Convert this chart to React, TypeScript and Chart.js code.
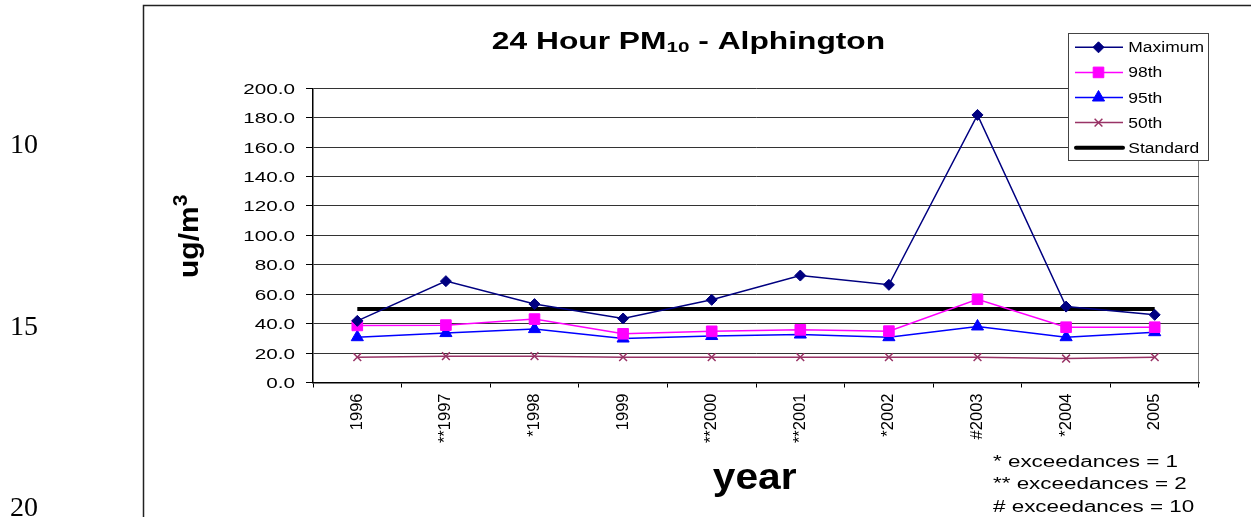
import React, { useEffect, useRef } from 'react';
import { Chart, registerables } from 'chart.js';
import { drawPoint } from 'chart.js/helpers';

Chart.register(...registerables);

// ---------- data ----------
const categories = ['1996', '**1997', '*1998', '1999', '**2000', '**2001', '*2002', '#2003', '*2004', '2005'];
const maximumValues = [41.9, 68.9, 53.3, 43.5, 56.2, 72.7, 66.4, 181.9, 51.6, 46.0];
const p98Values = [38.8, 39.0, 43.1, 33.1, 34.8, 35.8, 34.9, 56.6, 37.6, 37.6];
const p95Values = [30.8, 33.6, 36.3, 29.9, 31.6, 32.6, 30.8, 38.1, 30.8, 34.2];
const p50Values = [17.2, 17.9, 17.9, 17.2, 17.2, 17.2, 17.2, 17.2, 16.3, 17.2];
const standardValues = [50, 50, 50, 50, 50, 50, 50, 50, 50, 50];
const seriesLabels = ['Maximum', '98th', '95th', '50th', 'Standard'];
const yMin = 0;
const yMax = 200;
const yStep = 20;

const titleMain = '24 Hour PM';
const titleSub = '10';
const titleRest = ' - Alphington';
const yTitleMain = 'ug/m';
const yTitleSup = '3';
const xTitle = 'year';
const footnotes = ['* exceedances = 1', '** exceedances = 2', '# exceedances = 10'];
const lineNumbers = ['10', '15', '20'];

const FONT = '"Liberation Sans", Arial, sans-serif';

function stretchText(
  ctx: CanvasRenderingContext2D,
  text: string,
  x: number,
  y: number,
  font: string,
  sx: number,
  align: CanvasTextAlign = 'left'
) {
  ctx.save();
  ctx.font = font;
  ctx.translate(x, y);
  ctx.scale(sx, 1);
  ctx.textAlign = align;
  ctx.textBaseline = 'alphabetic';
  ctx.fillStyle = '#000';
  ctx.fillText(text, 0, 0);
  ctx.restore();
}

const decorPlugin = {
  id: 'decor',
  beforeDraw(chart: any) {
    const ctx: CanvasRenderingContext2D = chart.ctx;
    ctx.save();
    ctx.fillStyle = '#fff';
    ctx.fillRect(0, 0, chart.width, chart.height);
    // outer frame of the chart object
    ctx.strokeStyle = '#222';
    ctx.lineWidth = 1.5;
    ctx.beginPath();
    ctx.moveTo(143.5, chart.height);
    ctx.lineTo(143.5, 5.5);
    ctx.lineTo(chart.width, 5.5);
    ctx.stroke();
    ctx.restore();
  },
  afterDraw(chart: any) {
    const ctx: CanvasRenderingContext2D = chart.ctx;
    const ca = chart.chartArea;
    const ys = chart.scales.y;

    // title
    const sx = 1.38;
    const fMain = `bold 23px ${FONT}`;
    const fSub = `bold 15px ${FONT}`;
    ctx.save();
    ctx.font = fMain;
    const w1 = ctx.measureText(titleMain).width * sx;
    const w3 = ctx.measureText(titleRest).width * sx;
    ctx.font = fSub;
    const w2 = ctx.measureText(titleSub).width * sx;
    ctx.restore();
    const tx = 688.5 - (w1 + w2 + w3) / 2;
    stretchText(ctx, titleMain, tx, 49.3, fMain, sx);
    stretchText(ctx, titleSub, tx + w1, 52, fSub, sx);
    stretchText(ctx, titleRest, tx + w1 + w2, 49.3, fMain, sx);

    // y tick labels (from the library's y scale)
    ys.ticks.forEach((t: any) => {
      const y = ys.getPixelForValue(t.value);
      stretchText(ctx, Number(t.value).toFixed(1), ca.left - 18, y + 5.5, `15px ${FONT}`, 1.38, 'right');
    });

    // y axis title
    ctx.save();
    ctx.translate(198, 278);
    ctx.rotate(-Math.PI / 2);
    ctx.scale(1, 0.92);
    ctx.fillStyle = '#000';
    ctx.textBaseline = 'alphabetic';
    ctx.textAlign = 'left';
    ctx.font = `bold 30px ${FONT}`;
    const wy = ctx.measureText(yTitleMain).width;
    ctx.fillText(yTitleMain, 0, 0);
    ctx.font = `bold 21px ${FONT}`;
    ctx.fillText(yTitleSup, wy, -12);
    ctx.restore();

    // x axis title
    stretchText(ctx, xTitle, 754.7, 489.3, `bold 37px ${FONT}`, 1.1, 'center');

    // footnotes
    const fnBase = [466.7, 489.3, 511.7];
    footnotes.forEach((f, i) => stretchText(ctx, f, 993, fnBase[i], `16px ${FONT}`, 1.4, 'left'));

    // legend
    ctx.save();
    ctx.fillStyle = '#fff';
    ctx.fillRect(1068.5, 33.5, 140, 127);
    ctx.strokeStyle = '#444';
    ctx.lineWidth = 1;
    ctx.strokeRect(1068.5, 33.5, 140, 127);
    chart.data.datasets.forEach((ds: any, i: number) => {
      const y = 47.3 + i * 25.1;
      ctx.save();
      ctx.strokeStyle = ds.borderColor;
      ctx.lineWidth = ds.borderWidth;
      ctx.lineCap = ds.borderWidth > 2 ? 'round' : 'butt';
      ctx.beginPath();
      ctx.moveTo(ds.borderWidth > 2 ? 1076 : 1075, y);
      ctx.lineTo(1123, y);
      ctx.stroke();
      if (ds.pointRadius > 0) {
        ctx.fillStyle = ds.pointBackgroundColor;
        ctx.strokeStyle = ds.pointBorderColor;
        ctx.lineWidth = ds.pointBorderWidth;
        drawPoint(ctx, { pointStyle: ds.pointStyle, rotation: 0, radius: ds.pointRadius, borderWidth: ds.pointBorderWidth } as any, 1098.5, y);
      }
      ctx.restore();
      stretchText(ctx, ds.label, 1128.3, y + 5, `15.4px ${FONT}`, 1.135, 'left');
    });
    ctx.restore();
  },
};

function series(label: string, data: number[], color: string, pointStyle: any, radius: number, width: number) {
  return {
    label,
    data,
    borderColor: color,
    backgroundColor: color,
    borderWidth: width,
    pointStyle,
    pointRadius: radius,
    pointBackgroundColor: color,
    pointBorderColor: color,
    pointBorderWidth: pointStyle === 'crossRot' ? 1.5 : 1,
    tension: 0,
    fill: false,
  };
}

export default function App() {
  const canvasRef = useRef<HTMLCanvasElement | null>(null);

  useEffect(() => {
    if (!canvasRef.current) return;
    const chart = new Chart(canvasRef.current, {
      type: 'line',
      data: {
        labels: categories,
        datasets: [
          series(seriesLabels[0], maximumValues, '#000080', 'rectRot', 5.5, 1.5),
          series(seriesLabels[1], p98Values, '#FF00FF', 'rect', 7.5, 1.5),
          series(seriesLabels[2], p95Values, '#0000FF', 'triangle', 7, 1.5),
          series(seriesLabels[3], p50Values, '#993366', 'crossRot', 5.5, 1.5),
          series(seriesLabels[4], standardValues, '#000000', 'circle', 0, 4),
        ] as any,
      },
      options: {
        responsive: false,
        animation: false,
        devicePixelRatio: 1,
        layout: { padding: { left: 253, right: 52, top: 88.3, bottom: 34.5 } },
        plugins: {
          legend: { display: false },
          title: { display: false },
          tooltip: { enabled: false },
        },
        scales: {
          x: {
            type: 'category',
            offset: true,
            grid: {
              offset: true,
              drawOnChartArea: true,
              color: (c: any) => (c.index === undefined ? '#808080' : 'rgba(0,0,0,0)'),
              tickColor: '#000',
              tickLength: 5,
              lineWidth: 1,
            },
            border: { color: '#000', width: 1.5 },
            ticks: {
              autoSkip: false,
              minRotation: 90,
              maxRotation: 90,
              padding: 6,
              color: '#000',
              font: { family: FONT, size: 16.5 },
            },
            afterFit: (s: any) => {
              s.height = 100;
            },
          },
          y: {
            min: yMin,
            max: yMax,
            ticks: { stepSize: yStep, display: false },
            grid: { color: '#333', tickColor: '#000', tickLength: 7, lineWidth: 1 },
            border: { color: '#000', width: 1.5 },
            afterFit: (s: any) => {
              s.width = 60;
            },
          },
        },
      } as any,
      plugins: [decorPlugin],
    });
    return () => chart.destroy();
  }, []);

  const lineTops = [129.5, 311.5, 493];

  return (
    <div
      style={{
        position: 'fixed',
        left: 0,
        top: 0,
        width: 1251,
        height: 517,
        overflow: 'hidden',
        background: '#fff',
      }}
    >
      <canvas ref={canvasRef} width={1251} height={517} style={{ position: 'absolute', left: 0, top: 0, display: 'block' }} />
      {lineNumbers.map((n, i) => (
        <div
          key={n}
          style={{
            position: 'absolute',
            left: 10,
            top: lineTops[i],
            fontFamily: '"Liberation Serif", "Times New Roman", serif',
            fontSize: 28,
            lineHeight: '28px',
            color: '#000',
          }}
        >
          {n}
        </div>
      ))}
    </div>
  );
}
